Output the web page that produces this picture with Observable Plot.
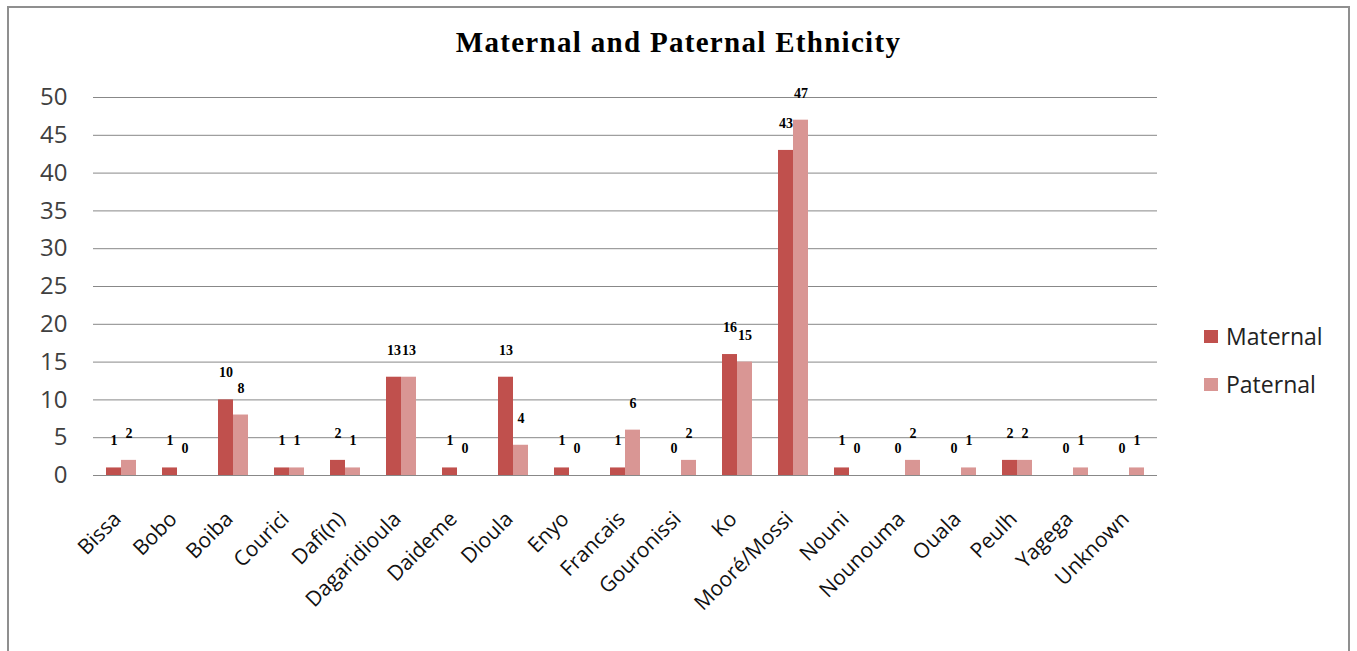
<!DOCTYPE html>
<html>
<head>
<meta charset="utf-8">
<script src="https://cdn.jsdelivr.net/npm/d3@7"></script>
<script src="https://cdn.jsdelivr.net/npm/@observablehq/plot@0.6"></script>
<style>
  html, body { margin: 0; padding: 0; background: #fff; }
  #wrap { position: relative; width: 1357px; height: 651px; overflow: hidden; background: #fff; }
  #frame { position: absolute; left: 7px; top: 6px; width: 1343px; height: 700px; border: 2px solid #8f8f8f; box-sizing: border-box; }
  #title { position: absolute; left: 0; width: 1357px; top: 26px; text-align: center; font-family: "Liberation Serif", serif; font-weight: bold; font-size: 29px; color: #000; letter-spacing: 1.3px; line-height: 33px; }
  #chart { position: absolute; left: 0; top: 70px; }
  .leg { position: absolute; left: 1204px; font-family: "Open Sans", sans-serif; font-size: 23px; line-height: 31px; color: #222; display: flex; align-items: center; }
  .leg span.sw { display: inline-block; width: 14px; height: 13px; margin-right: 8px; }
</style>
</head>
<body>
<div id="wrap">
  <div id="frame"></div>
  <div id="title">Maternal and Paternal Ethnicity</div>
  <div id="chart"></div>
  <div class="leg" style="top:321px"><span class="sw" style="background:#C0504D"></span>Maternal</div>
  <div class="leg" style="top:369px"><span class="sw" style="background:#D99694"></span>Paternal</div>
</div>
<script>
const categories = ["Bissa","Bobo","Boiba","Courici","Dafi(n)","Dagaridioula","Daideme","Dioula","Enyo","Francais","Gouronissi","Ko","Mooré/Mossi","Nouni","Nounouma","Ouala","Peulh","Yagega","Unknown"];
const maternal = [1,1,10,1,2,13,1,13,1,1,0,16,43,1,0,0,2,0,0];
const paternal = [2,0,8,1,1,13,0,4,0,6,2,15,47,0,2,1,2,1,1];
const seriesNames = ["Maternal","Paternal"];
const seriesColors = ["#C0504D","#D99694"];
const yTicks = [0,5,10,15,20,25,30,35,40,45,50];

const data = [];
categories.forEach((c, i) => {
  data.push({cat: c, series: "Maternal", value: maternal[i]});
  data.push({cat: c, series: "Paternal", value: paternal[i]});
});

const chart = Plot.plot({
  width: 1357,
  height: 581,
  marginTop: 27,
  marginBottom: 176,
  marginLeft: 90,
  marginRight: 197,
  style: {background: "transparent", overflow: "visible"},
  fx: {domain: categories, padding: 0},
  x: {domain: seriesNames, paddingInner: 0, paddingOuter: 0.76, axis: null},
  y: {domain: [0, 50], axis: null},
  color: {domain: seriesNames, range: seriesColors},
  marks: [
    Plot.ruleY(yTicks, {stroke: "#888888", strokeWidth: 1}),
    Plot.barY(data, {fx: "cat", x: "series", y: "value", fill: "series"}),
    Plot.text(data, {fx: "cat", x: "series", y: "value", text: d => String(d.value), dy: -27,
      fontFamily: "Liberation Serif", fontWeight: "bold", fontSize: 14, fill: "#000"}),
    Plot.axisY({ticks: yTicks, tickSize: 0, tickPadding: 26, fontSize: 24, fontFamily: "Open Sans", fill: "#404040", label: null}),
    Plot.axisFx({anchor: "bottom", tickRotate: -45, tickSize: 0, tickPadding: 40, dx: -4, fontSize: 21, fontFamily: "Open Sans", fill: "#111", label: null})
  ]
});
document.getElementById("chart").appendChild(chart);
</script>
</body>
</html>
